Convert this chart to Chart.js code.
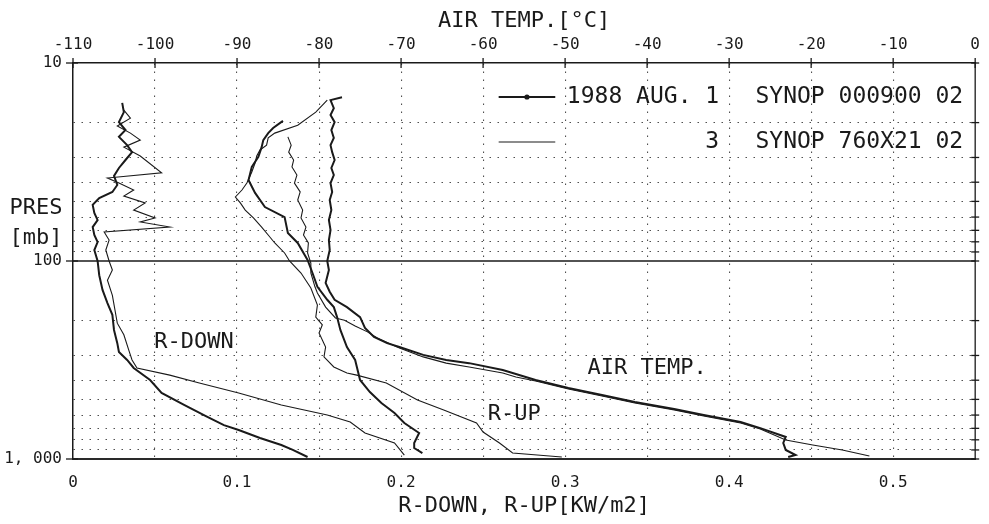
<!DOCTYPE html>
<html>
<head>
<meta charset="utf-8">
<title>SYNOP sounding profiles</title>
<script src="https://cdn.jsdelivr.net/npm/chart.js@4.4.1/dist/chart.umd.min.js"></script>
<style>
  html, body { margin: 0; padding: 0; background: #fff; }
  #wrap { width: 989px; height: 524px; }
</style>
</head>
<body>
<div id="wrap"><canvas id="profile"></canvas></div>
<script>
// axis ticks
const tempTicks = [-110, -100, -90, -80, -70, -60, -50, -40, -30, -20, -10, 0];
const radTicks = [0, 0.1, 0.2, 0.3, 0.4, 0.5];
const presTicks = [10, 20, 30, 40, 50, 60, 70, 80, 90, 100, 200, 300, 400, 500, 600, 700, 800, 900, 1000];
const presLabels = {10: '10', 100: '100', 1000: '1, 000'};

// Aug 1 sounding (000900) - air temperature [C] vs pressure [mb]
const airTemp1Pres = [14.9, 15.4, 16.9, 18.3, 19.9, 21.8, 23.9, 26.0, 28.2, 30.9, 33.9, 36.8, 40.4, 44.8, 49.2, 55.3, 62.1, 69.8, 78.4, 88.0, 100, 111, 129, 143, 157, 171, 192, 218, 242, 260, 272, 298, 316, 328, 355, 399, 438, 475, 515, 559, 600, 650, 698, 774, 830, 900, 955, 977];
const airTemp1Val = [-77.2, -78.6, -78.2, -78.6, -78.1, -78.5, -78.2, -78.6, -78.4, -78.1, -78.5, -78.2, -78.6, -78.4, -78.7, -78.5, -78.8, -78.6, -78.8, -78.7, -79.0, -78.8, -79.2, -78.7, -78.1, -76.6, -75.0, -74.4, -73.3, -71.7, -70.2, -67.3, -64.5, -61.7, -57.6, -53.6, -49.6, -45.5, -41.5, -36.7, -33.1, -28.6, -26.2, -23.1, -23.4, -23.1, -21.9, -22.8];

// Aug 3 sounding (760X21) - air temperature
const airTemp3Pres = [23.6, 26.0, 28.2, 30.9, 33.5, 36.8, 40.4, 44.8, 49.2, 55.3, 60.6, 67.4, 73.9, 81.1, 91.1, 102.4, 115, 135, 145, 171, 194, 199, 213, 228, 245, 275, 305, 328, 343, 368, 385, 404, 443, 481, 521, 565, 607, 658, 706, 802, 850, 900, 966];
const airTemp3Val = [-83.8, -83.4, -83.7, -83.1, -83.3, -82.7, -83.0, -82.3, -82.6, -82.0, -82.2, -81.6, -81.9, -81.3, -81.4, -81.0, -81.0, -80.5, -80.2, -79.2, -78.0, -76.9, -75.6, -74.1, -72.9, -70.2, -67.3, -64.5, -61.7, -57.6, -56.0, -53.6, -49.6, -45.5, -41.5, -36.7, -33.1, -28.6, -26.2, -23.1, -19.8, -16.2, -12.9];

// downward radiation [kW/m2]
const rDown1Pres = [15.9, 17.7, 19.9, 21.8, 23.6, 26.0, 28.2, 30.9, 33.9, 37.2, 41.3, 44.8, 48.1, 52.1, 57.2, 62.1, 67.4, 73.9, 80.2, 88.0, 100, 118, 140, 163, 187, 223, 260, 288, 316, 347, 399, 464, 534, 607, 674, 714, 783, 850, 900, 977];
const rDown1Val = [0.030, 0.031, 0.028, 0.032, 0.028, 0.033, 0.036, 0.032, 0.028, 0.025, 0.027, 0.024, 0.016, 0.012, 0.013, 0.015, 0.012, 0.013, 0.015, 0.013, 0.015, 0.016, 0.018, 0.021, 0.024, 0.025, 0.027, 0.028, 0.033, 0.037, 0.047, 0.054, 0.068, 0.081, 0.092, 0.101, 0.114, 0.127, 0.134, 0.143];

const rDown3Pres = [17.3, 19.0, 20.8, 22.6, 24.5, 26.6, 29.5, 35.9, 38.1, 40.4, 43.8, 47.0, 50.9, 55.3, 60.6, 63.5, 67.4, 71.4, 78.4, 88.0, 100, 111, 125, 149, 206, 236, 282, 316, 347, 377, 413, 464, 534, 600, 650, 739, 830, 955];
const rDown3Val = [0.031, 0.035, 0.027, 0.035, 0.041, 0.031, 0.041, 0.054, 0.021, 0.028, 0.037, 0.031, 0.044, 0.037, 0.050, 0.041, 0.059, 0.019, 0.022, 0.020, 0.022, 0.024, 0.021, 0.024, 0.027, 0.031, 0.034, 0.036, 0.039, 0.059, 0.077, 0.101, 0.127, 0.155, 0.169, 0.178, 0.196, 0.202];

// upward radiation [kW/m2]
const rUp1Pres = [19.6, 21.3, 22.6, 24.5, 26.6, 29.8, 33.5, 39.0, 45.3, 53.4, 60.0, 72.2, 81.1, 98.8, 115, 135, 157, 171, 192, 223, 272, 316, 399, 459, 521, 586, 658, 739, 830, 880, 933];
const rUp1Val = [0.128, 0.122, 0.119, 0.116, 0.115, 0.113, 0.109, 0.107, 0.111, 0.117, 0.129, 0.131, 0.137, 0.143, 0.146, 0.149, 0.155, 0.159, 0.161, 0.163, 0.167, 0.172, 0.175, 0.181, 0.188, 0.196, 0.202, 0.211, 0.208, 0.208, 0.213];

const rUp3Pres = [15.4, 17.7, 20.6, 22.6, 23.9, 26.0, 27.5, 29.5, 32.0, 35.5, 40.4, 43.8, 47.5, 50.9, 55.3, 60.6, 67.4, 73.9, 81.1, 91.1, 100, 115, 137, 167, 192, 210, 231, 272, 305, 343, 368, 377, 413, 504, 565, 658, 731, 830, 933, 977];
const rUp3Val = [0.155, 0.148, 0.137, 0.123, 0.119, 0.118, 0.114, 0.112, 0.111, 0.109, 0.106, 0.103, 0.099, 0.102, 0.105, 0.110, 0.115, 0.119, 0.123, 0.129, 0.132, 0.139, 0.145, 0.149, 0.148, 0.152, 0.150, 0.154, 0.153, 0.159, 0.167, 0.173, 0.191, 0.210, 0.226, 0.246, 0.250, 0.260, 0.268, 0.298];

const ink = '#1a1a1a';
const dots = '#505050';
const plotFont = '"DejaVu Sans Mono", "Liberation Mono", monospace';

function toPoints(pres, vals) {
    return pres.map((p, i) => ({x: vals[i], y: p}));
}

function trace(label, pres, vals, axis, thick) {
    return {
        label: label,
        data: toPoints(pres, vals),
        xAxisID: axis,
        yAxisID: 'y',
        showLine: true,
        borderColor: ink,
        borderWidth: thick ? 2 : 1.1,
        pointRadius: 0,
        tension: 0,
        fill: false
    };
}

function seg(ctx, x1, y1, x2, y2) {
    ctx.beginPath();
    ctx.moveTo(x1, y1);
    ctx.lineTo(x2, y2);
    ctx.stroke();
}

// frame ticks, 100 mb line, legend and curve labels
const framePlugin = {
    id: 'frame',
    afterDraw(chart) {
        const {ctx, chartArea: a, scales} = chart;
        const y = scales.y, xT = scales.xT, xR = scales.xR;
        ctx.save();
        ctx.strokeStyle = ink;
        ctx.setLineDash([]);

        ctx.lineWidth = 1.6;
        const y100 = y.getPixelForValue(100);
        seg(ctx, a.left, y100, a.right, y100);

        ctx.lineWidth = 1.3;
        seg(ctx, a.right, a.top, a.right, a.bottom);

        tempTicks.forEach(t => {
            const x = xT.getPixelForValue(t);
            seg(ctx, x, a.top - 5, x, a.top + 5);
        });
        presTicks.forEach(p => {
            const py = y.getPixelForValue(p);
            if (presLabels[p]) seg(ctx, a.left - 7, py, a.left + 5, py);
            seg(ctx, a.right - 4, py, a.right + 4, py);
        });

        ctx.fillStyle = ink;
        ctx.font = '22px ' + plotFont;
        ctx.textBaseline = 'middle';
        ctx.textAlign = 'center';
        ctx.fillText('PRES', a.left - 37, a.top + 145);
        ctx.fillText('[mb]', a.left - 37, a.top + 175);

        // legend
        const lx1 = xT.getPixelForValue(-58.1), lx2 = xT.getPixelForValue(-51.2);
        const row1 = a.top + 34, row2 = a.top + 79;
        ctx.lineWidth = 2;
        seg(ctx, lx1, row1, lx2, row1);
        ctx.beginPath();
        ctx.arc((lx1 + lx2) / 2, row1, 2.6, 0, Math.PI * 2);
        ctx.fill();
        ctx.lineWidth = 1.1;
        seg(ctx, lx1, row2, lx2, row2);

        ctx.font = '23px ' + plotFont;
        ctx.textAlign = 'right';
        const colA = a.right - 256, colB = a.right - 12;
        ctx.fillText('1988 AUG. 1', colA, row1);
        ctx.fillText('SYNOP 000900 02', colB, row1);
        ctx.fillText('3', colA, row2);
        ctx.fillText('SYNOP 760X21 02', colB, row2);

        // curve labels
        ctx.font = '22px ' + plotFont;
        ctx.textAlign = 'center';
        ctx.fillText('R-DOWN', xR.getPixelForValue(0.0737), y.getPixelForValue(256));
        ctx.fillText('AIR TEMP.', xR.getPixelForValue(0.35), y.getPixelForValue(347));
        ctx.fillText('R-UP', xR.getPixelForValue(0.269), y.getPixelForValue(593));
        ctx.restore();
    }
};

const config = {
    type: 'scatter',
    data: {
        datasets: [
            trace('AIR TEMP 1', airTemp1Pres, airTemp1Val, 'xT', true),
            trace('AIR TEMP 3', airTemp3Pres, airTemp3Val, 'xT', false),
            trace('R-DOWN 1', rDown1Pres, rDown1Val, 'xR', true),
            trace('R-DOWN 3', rDown3Pres, rDown3Val, 'xR', false),
            trace('R-UP 1', rUp1Pres, rUp1Val, 'xR', true),
            trace('R-UP 3', rUp3Pres, rUp3Val, 'xR', false)
        ]
    },
    options: {
        responsive: true,
        maintainAspectRatio: false,
        animation: false,
        layout: { padding: { right: 5 } },
        plugins: {
            legend: { display: false },
            tooltip: { enabled: false }
        },
        scales: {
            xT: {
                type: 'linear',
                position: 'top',
                min: -110,
                max: 0,
                afterFit: s => { s.height = 63; },
                afterBuildTicks: s => { s.ticks = tempTicks.map(v => ({value: v})); },
                ticks: {
                    autoSkip: false,
                    maxRotation: 0,
                    padding: 9,
                    color: ink,
                    font: { family: plotFont, size: 16 },
                    callback: v => String(v)
                },
                grid: {
                    drawTicks: false,
                    lineWidth: 1.1,
                    color: c => (c.tick && (c.tick.value === -110 || c.tick.value === 0)) ? 'rgba(0,0,0,0)' : dots
                },
                border: { display: true, color: ink, width: 1.5, dash: [1.5, 6.5] },
                title: {
                    display: true,
                    text: 'AIR TEMP.[°C]',
                    color: ink,
                    font: { family: plotFont, size: 22 },
                    padding: { top: 8, bottom: 0 }
                }
            },
            xR: {
                type: 'linear',
                position: 'bottom',
                min: 0,
                max: 0.55,
                afterFit: s => { s.height = 65; },
                afterBuildTicks: s => { s.ticks = radTicks.map(v => ({value: v})); },
                ticks: {
                    autoSkip: false,
                    maxRotation: 0,
                    padding: 14,
                    color: ink,
                    font: { family: plotFont, size: 16 },
                    callback: v => v === 0 ? '0' : v.toFixed(1)
                },
                grid: { display: false, drawTicks: false },
                border: { display: true, color: '#2a2a2a', width: 2 },
                title: {
                    display: true,
                    text: 'R-DOWN, R-UP[KW/m2]',
                    color: ink,
                    font: { family: plotFont, size: 22 },
                    padding: { top: 0, bottom: 5 }
                }
            },
            y: {
                type: 'logarithmic',
                reverse: true,
                min: 10,
                max: 1000,
                afterFit: s => { s.width = 73; },
                afterBuildTicks: s => { s.ticks = presTicks.map(v => ({value: v})); },
                ticks: {
                    autoSkip: false,
                    padding: 11,
                    color: ink,
                    font: { family: plotFont, size: 16 },
                    callback: v => presLabels[v] || ''
                },
                grid: {
                    drawTicks: false,
                    lineWidth: 1.1,
                    color: c => (c.tick && presLabels[c.tick.value]) ? 'rgba(0,0,0,0)' : dots
                },
                border: { display: true, color: ink, width: 1.5, dash: [1.5, 6.5] }
            }
        }
    },
    plugins: [framePlugin]
};

document.addEventListener('DOMContentLoaded', () => {
    new Chart(document.getElementById('profile').getContext('2d'), config);
});
</script>
</body>
</html>
